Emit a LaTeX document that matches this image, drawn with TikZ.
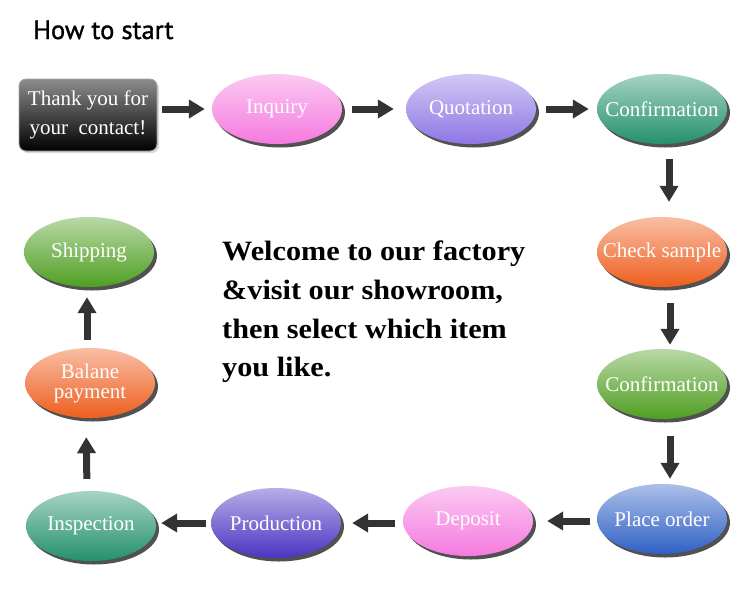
\documentclass[tikz,border=0pt]{standalone}
\usepackage{fontspec}
\setmainfont{Liberation Serif}
\newfontfamily\titlefont{PT Sans}[FakeBold=1.2]
\newfontfamily\welcomefont{Liberation Serif}[FakeStretch=1.08]
\usetikzlibrary{shapes.geometric,shadows,arrows.meta}
\definecolor{pinkc}{HTML}{F57ADF}
\definecolor{lavc}{HTML}{8E76E4}
\definecolor{tealc}{HTML}{23906C}
\definecolor{orangec}{HTML}{EE5E1E}
\definecolor{greenc}{HTML}{4F9F22}
\definecolor{bluec}{HTML}{3060C6}
\definecolor{purc}{HTML}{4A34C2}
\definecolor{arrc}{HTML}{333333}
\tikzset{
  ell/.style={ellipse, draw=none, minimum width=130pt, minimum height=70pt,
    inner sep=0pt, top color=#1!40!white, bottom color=#1,
    drop shadow={shadow xshift=3pt, shadow yshift=-3.5pt, opacity=0.85, fill=black!80}},
  lbl/.style={text=white, inner sep=0pt, font=\fontsize{21}{20}\selectfont},
  thankbox/.style={rectangle, rounded corners=7pt, minimum width=138pt,
    minimum height=72pt, top color=black!45, bottom color=black,
    draw=black!35, line width=0.8pt,
    drop shadow={shadow xshift=2pt, shadow yshift=-2pt, opacity=0.3}},
  flow/.style={draw=arrc, line width=7pt, -{Triangle[width=18pt,length=16pt]}},
  wel/.style={anchor=base west, inner sep=0pt,
    font=\welcomefont\bfseries\fontsize{28}{32}\selectfont},
}
\begin{document}
\begin{tikzpicture}[x=1pt,y=-1pt]
\fill[white] (0,0) rectangle (750,595);
\useasboundingbox (0,0) rectangle (750,595);

\node[anchor=base west, inner sep=0pt, font=\titlefont\fontsize{26.5}{30}\selectfont] (title) at (33,39) {How to start};

% top row
\node[thankbox] (thank) at (88,115) {};
\node[text=white, align=center, inner sep=0pt, font=\fontsize{21}{29}\selectfont] (thanktxt) at (thank) {Thank you for\\your~ contact!};
\node[ell=pinkc, label={[lbl]center:Inquiry}] (inq) at (277,109) {};
\node[ell=lavc, label={[lbl]center:Quotation}] (quo) at (471,109) {};
\node[ell=tealc, label={[lbl]center:Confirmation}] (con1) at (662,109) {};

% right column
\node[ell=orangec, label={[lbl]center:Check sample}] (chk) at (662,252) {};
\node[ell=greenc, label={[lbl]center:Confirmation}] (con2) at (662,384) {};
\node[ell=bluec, label={[lbl]center:Place order}] (plc) at (662,519) {};

% bottom row
\node[ell=pinkc, label={[lbl]center:Deposit}] (dep) at (468,521) {};
\node[ell=purc, label={[lbl]center:Production}] (prd) at (276,523) {};
\node[ell=tealc, label={[lbl]center:Inspection}] (ins) at (91,526) {};

% left column
\node[ell=orangec, label={[lbl,align=center]center:{Balane\\payment}}] (bal) at (90,383) {};
\node[ell=greenc, label={[lbl]center:Shipping}] (shp) at (89,252) {};

% welcome text
\node[wel] (w1) at (222,260) {Welcome to our factory};
\node[wel] (w2) at (222,299) {\&visit our showroom,};
\node[wel] (w3) at (222,338) {then select which item};
\node[wel] (w4) at (222,376) {you like.};

% arrows
\draw[flow, shorten <=5pt, shorten >=7pt] (thank.east |- inq.west) -- (inq.west);
\draw[flow, shorten <=10pt, shorten >=12pt] (inq.east) -- (quo.west);
\draw[flow, shorten <=10pt, shorten >=8pt] (quo.east) -- (con1.west);
\draw[flow, shorten <=15pt, shorten >=15pt] ([xshift=7pt]con1.south) -- ([xshift=7pt]chk.north);
\draw[flow, shorten <=16pt, shorten >=4pt] ([xshift=8pt]chk.south) -- ([xshift=8pt]con2.north);
\draw[flow, shorten <=17pt, shorten >=5pt] ([xshift=8pt]con2.south) -- ([xshift=8pt]plc.north);
\draw[flow, shorten <=7pt, shorten >=14pt] (plc.west |- dep.east) -- (dep.east);
\draw[flow, shorten <=8pt, shorten >=11pt] (dep.west |- prd.east) -- (prd.east);
\draw[flow, shorten <=5pt, shorten >=5pt] (prd.west) -- (ins.east |- prd.west);
\draw[flow, shorten <=12pt, shorten >=19pt] ([xshift=-4pt]ins.north) -- ([xshift=-4pt]bal.south);
\draw[flow, shorten <=8pt, shorten >=10pt] ([xshift=-3pt]bal.north) -- ([xshift=-3pt]bal.north |- shp.south);
\end{tikzpicture}
\end{document}
